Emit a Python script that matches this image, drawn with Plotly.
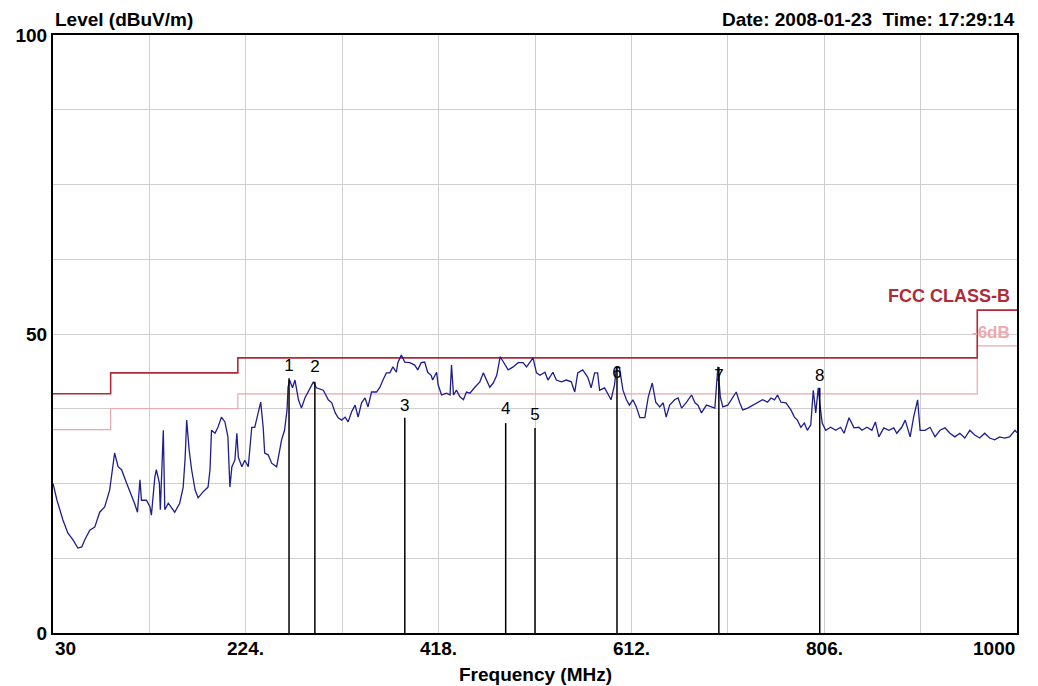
import plotly.graph_objects as go

# ---------------- data ----------------
freq = [30, 34, 40, 45, 50, 55, 59, 62, 67, 72, 77, 82, 87, 90, 92, 95.5, 99, 104, 107, 112,
        115, 117.5, 119, 124, 127.5, 129, 132.5, 134, 137, 138, 141, 142.5, 146, 149, 152.5,
        157.5, 161, 163, 164.5, 167, 169.5, 173, 176, 181, 186, 188, 189.5, 193, 196, 199.5,
        203, 206, 208, 210, 213, 215, 216.5, 220, 223, 226.5, 230, 233, 236.5, 239, 241.5,
        243, 246.5, 250, 255, 257.5, 260, 263, 265.5, 266.5, 268, 271, 273.5, 277, 280, 283.5,
        288.5, 292, 295, 302, 307, 310.5, 314, 317, 320.5, 324, 327, 330.5, 334, 337, 340.5,
        344, 347, 350.5, 355.5, 359, 362, 365.5, 369, 372, 375.5, 377, 380.5, 384, 389, 394,
        397, 400.5, 404, 407, 410.5, 412, 416, 417.5, 421, 426, 429.5, 431, 433, 436, 439.5,
        443, 446, 449.5, 454.5, 459.5, 463, 466, 469.5, 473, 476.5, 480, 483, 488, 493, 498,
        503, 506.5, 510, 513, 516.5, 520, 525, 528, 533, 536.5, 541.5, 546.5, 551.5, 555, 558,
        563, 568, 571.5, 575, 578, 580, 585, 588, 591.5, 595, 597, 600, 603.5, 607, 610, 613.5,
        617, 620.5, 625.5, 629, 633, 636.5, 640.5, 644, 647, 650.5, 655.5, 659, 662.5, 667.5,
        672.5, 676, 679, 682.5, 687.5, 692.5, 696, 697.5, 699, 701.5, 704, 709, 714, 717.5,
        721, 724, 729, 734, 739, 744, 749, 752.5, 756, 759, 762.5, 767.5, 772.5, 776, 779,
        782.5, 786, 789, 792.5, 795, 797.5, 800, 802, 804, 807.5, 812.5, 817.5, 822.5, 826,
        831, 836, 841, 844, 849, 854, 857.5, 861, 866, 871, 876, 879, 884, 887.5, 892.5, 896,
        900, 902.5, 907.5, 912.5, 917.5, 922.5, 927.5, 932.5, 937.5, 942.5, 947.5, 952.5,
        957.5, 962.5, 967.5, 972.5, 977.5, 982.5, 987.5, 992.5, 998, 1000]
level = [25.0, 22.2, 18.9, 16.7, 15.6, 14.2, 14.4, 15.6, 17.2, 17.7, 20.2, 21.1, 23.9, 27.3,
         30.1, 27.8, 27.3, 25.1, 23.9, 21.7, 20.2, 25.6, 22.2, 22.2, 21.1, 19.7, 26.1, 27.3,
         25.1, 20.6, 33.9, 20.6, 21.7, 20.9, 20.2, 21.7, 24.4, 29.4, 35.6, 30.6, 27.3, 23.9,
         22.6, 23.6, 24.4, 27.3, 33.9, 33.4, 34.4, 36.1, 35.3, 32.8, 24.4, 27.8, 28.9, 33.4,
         29.4, 27.8, 28.9, 27.8, 34.4, 34.4, 36.8, 38.6, 34.4, 30.1, 29.8, 28.4, 27.8, 30.1,
         32.3, 33.9, 37.3, 41.1, 42.3, 41.0, 42.3, 39.0, 37.6, 39.3, 41.0, 42.0, 41.0, 40.6,
         39.0, 38.5, 36.8, 36.0, 35.6, 36.1, 35.3, 37.0, 38.1, 36.1, 38.5, 39.3, 37.8, 40.3,
         40.3, 41.1, 42.3, 43.5, 43.5, 44.5, 43.6, 45.2, 46.5, 45.3, 45.2, 44.8, 44.0, 45.2,
         45.3, 43.6, 43.1, 42.3, 43.6, 41.5, 39.8, 40.1, 39.8, 44.8, 39.8, 40.6, 39.5, 39.0,
         40.3, 40.1, 41.1, 42.0, 43.5, 42.3, 41.1, 41.8, 43.1, 46.2, 45.3, 44.0, 44.5, 45.2,
         45.2, 44.5, 45.3, 46.0, 43.5, 43.1, 43.6, 42.3, 43.6, 42.3, 42.0, 42.3, 42.0, 40.3,
         43.5, 44.0, 42.8, 41.0, 43.5, 43.5, 40.6, 41.0, 40.1, 39.0, 41.5, 44.5, 44.3, 40.6,
         39.0, 38.1, 39.0, 37.8, 36.0, 36.0, 39.5, 41.8, 38.6, 37.8, 38.5, 36.1, 38.1, 39.0,
         39.3, 37.6, 38.6, 39.8, 38.5, 38.1, 36.8, 38.1, 37.8, 37.6, 41.1, 44.5, 39.5, 37.8,
         38.1, 39.3, 40.3, 38.5, 37.3, 37.6, 38.1, 38.5, 39.0, 38.6, 39.3, 39.0, 39.8, 38.6,
         38.5, 37.3, 36.1, 35.6, 34.4, 35.1, 33.9, 34.8, 40.6, 36.8, 41.0, 37.8, 35.1, 33.9,
         34.4, 33.9, 34.4, 33.4, 36.0, 34.3, 34.4, 33.9, 34.4, 33.9, 35.3, 32.8, 34.3, 33.9,
         34.3, 33.4, 34.4, 35.6, 32.8, 36.1, 39.0, 33.9, 33.9, 34.4, 32.8, 33.9, 34.3, 33.4,
         32.8, 33.4, 32.6, 33.9, 33.1, 32.6, 33.4, 32.6, 32.3, 32.8, 32.6, 32.8, 33.9, 33.5]

limit_freq = [30, 88, 216, 960, 1000]
limit_b = [40, 43.5, 46, 54, 54]
limit_6db = [34, 37.5, 40, 48, 48]

marker_ids = ["1", "2", "3", "4", "5", "6", "7", "8"]
marker_freq = [267.5, 293.5, 384, 485.5, 515, 597.5, 700, 801.5]
marker_level = [42.6, 42.0, 36.0, 35.1, 34.3, 44.5, 44.5, 41.0]
marker_label_level = [44.6, 44.4, 37.8, 37.3, 36.4, 43.3, 42.8, 42.9]

x_tickvals = [30, 127, 224, 321, 418, 515, 612, 709, 806, 903, 1000]
x_ticktext = ["30", "", "224.", "", "418.", "", "612.", "", "806.", "", "1000"]
y_tickvals = [0, 12.5, 25, 37.5, 50, 62.5, 75, 87.5, 100]
y_ticktext = ["0", "", "", "", "50", "", "", "", "100"]

FONT = "Liberation Sans, Arial, sans-serif"

fig = go.Figure()

fig.add_trace(go.Scatter(x=limit_freq, y=limit_6db, mode="lines", line_shape="hv",
                         line=dict(color="#eca6ae", width=1.2), hoverinfo="skip"))
fig.add_trace(go.Scatter(x=limit_freq, y=limit_b, mode="lines", line_shape="hv",
                         line=dict(color="#b02a38", width=1.6), hoverinfo="skip"))
fig.add_trace(go.Scatter(x=freq, y=level, mode="lines",
                         line=dict(color="#1e1e90", width=1.3)))

for mf, ml in zip(marker_freq, marker_level):
    fig.add_trace(go.Scatter(x=[mf, mf], y=[0, ml], mode="lines",
                             line=dict(color="black", width=1.5), hoverinfo="skip"))

fig.add_trace(go.Scatter(x=marker_freq, y=marker_label_level, mode="text", text=marker_ids,
                         textposition="middle center",
                         textfont=dict(family=FONT, size=17, color="black"),
                         hoverinfo="skip"))

annotations = [
    dict(text="<b>Level (dBuV/m)</b>", xref="paper", yref="paper", x=0, y=1.0,
         xanchor="left", yanchor="bottom", yshift=3, showarrow=False,
         font=dict(family=FONT, size=19, color="black")),
    dict(text="<b>Date: 2008-01-23  Time: 17:29:14</b>", xref="paper", yref="paper", x=1.0, y=1.0,
         xanchor="right", yanchor="bottom", yshift=3, showarrow=False,
         font=dict(family=FONT, size=19, color="black")),
    dict(text="<b>Frequency (MHz)</b>", xref="paper", yref="paper", x=0.5, y=0,
         xanchor="center", yanchor="top", yshift=-29, showarrow=False,
         font=dict(family=FONT, size=19, color="black")),
    dict(text="<b>FCC CLASS-B</b>", xref="paper", yref="y", x=0.995, y=56.3,
         xanchor="right", yanchor="middle", showarrow=False,
         font=dict(family=FONT, size=18, color="#b02a38")),
    dict(text="<b>-6dB</b>", xref="paper", yref="y", x=0.995, y=50.2,
         xanchor="right", yanchor="middle", showarrow=False,
         font=dict(family=FONT, size=17, color="#f0a8b0")),
]
for i, (tv, tt) in enumerate(zip(x_tickvals, x_ticktext)):
    if not tt:
        continue
    anchor = "left" if i == 0 else ("right" if i == len(x_tickvals) - 1 else "center")
    annotations.append(dict(text="<b>" + tt + "</b>", xref="x", yref="paper", x=tv, y=0,
                            xanchor=anchor, yanchor="top", yshift=-3, showarrow=False,
                            font=dict(family=FONT, size=19, color="black")))

fig.update_layout(
    width=1038, height=686,
    margin=dict(l=53, r=21, t=35, b=53),
    paper_bgcolor="white", plot_bgcolor="white",
    showlegend=False,
    annotations=annotations,
    xaxis=dict(range=[30, 1000], tickvals=x_tickvals, ticktext=[""] * len(x_tickvals),
               showgrid=True, gridcolor="#cfcfcf", gridwidth=1, zeroline=False,
               showline=True, linecolor="black", linewidth=2, mirror=True, ticks=""),
    yaxis=dict(range=[0, 100], tickvals=y_tickvals, ticktext=[f"<b>{t}</b>" if t else "" for t in y_ticktext],
               tickfont=dict(family=FONT, size=19, color="black"),
               showgrid=True, gridcolor="#cfcfcf", gridwidth=1, zeroline=False,
               showline=True, linecolor="black", linewidth=2, mirror=True, ticks=""),
)

fig.write_html("out.html")
